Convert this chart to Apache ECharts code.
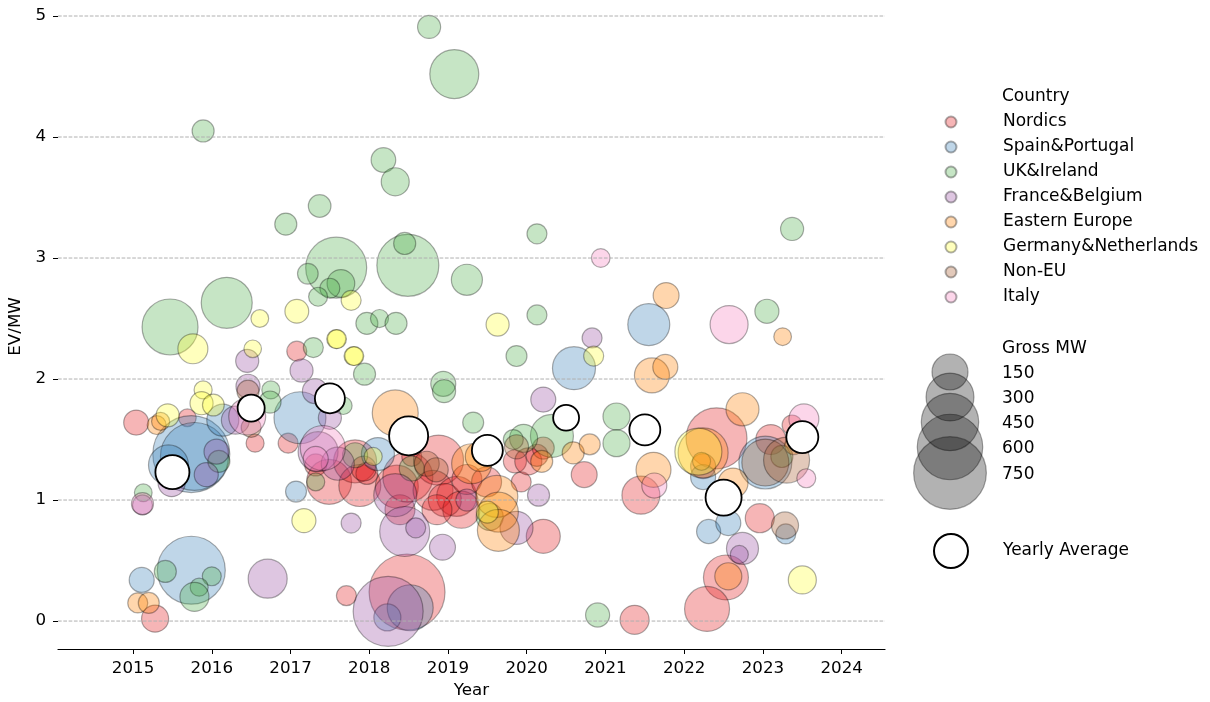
<!DOCTYPE html>
<html>
<head>
<meta charset="utf-8">
<script src="https://cdn.jsdelivr.net/npm/echarts@6/dist/echarts.min.js"></script>
<style>
  html, body { margin: 0; padding: 0; background: #fff; }
  #chart { width: 1210px; height: 702px; }
</style>
</head>
<body>
<div id="chart"></div>
<script>
// Deals per region: [year, EV/MW, gross MW]
const nordics = [
  [2015.04,1.64,49],[2015.69,1.68,2],[2016.55,1.47,4],[2015.28,0.02,65],[2017.08,2.23,15],
  [2016.97,1.47,15],[2017.32,1.29,28],[2017.49,1.15,259],[2017.82,1.32,233],[2017.88,1.12,220],
  [2017.97,1.22,28],[2017.93,1.26,49],[2018.35,1.11,233],[2018.39,0.92,90],[2018.49,1.19,331],
  [2018.54,1.36,15],[2018.88,1.33,331],[2018.81,1.08,195],[2019.11,1.03,195],[2018.96,1.00,119],
  [2019.17,0.92,161],[2018.86,0.92,90],[2019.24,1.17,90],[2019.49,1.15,90],[2019.93,1.15,15],
  [2019.85,1.32,35],[2020.02,1.32,65],[2020.13,1.37,28],[2020.21,1.43,28],[2020.73,1.21,56],
  [2020.21,0.70,129],[2017.71,0.21,15],[2018.48,0.24,823],[2021.45,1.04,172],[2021.37,0.01,82],
  [2022.41,1.51,514],[2022.24,1.28,49],[2023.10,1.50,90],[2023.37,1.62,15],[2022.96,0.85,82],
  [2022.53,0.36,259],[2022.29,0.10,259]
];
const spainPortugal = [
  [2015.74,1.38,847],[2015.78,1.36,650],[2015.45,1.29,195],[2016.14,1.66,109],[2015.11,0.34,49],
  [2015.74,0.42,650],[2017.12,1.68,361],[2018.11,1.38,119],[2017.07,1.07,21],[2018.52,0.11,273],
  [2018.23,0.03,65],[2020.60,2.09,233],[2021.55,2.45,220],[2022.24,1.19,49],[2023.03,1.31,377],
  [2023.29,0.72,15],[2022.31,0.74,42],[2022.56,0.81,49]
];
const ukIreland = [
  [2015.89,4.05,28],[2016.94,3.28,28],[2018.76,4.91,35],[2019.08,4.52,316],[2018.18,3.81,46],
  [2018.33,3.63,73],[2017.37,3.43,32],[2020.13,3.20,15],[2015.47,2.43,426],[2016.19,2.63,346],
  [2017.58,2.92,514],[2018.49,2.94,533],[2018.45,3.12,28],[2019.24,2.82,100],[2017.22,2.87,19],
  [2017.64,2.79,70],[2017.50,2.75,15],[2017.35,2.68,9],[2020.13,2.53,15],[2017.97,2.46,28],
  [2018.13,2.50,4],[2018.34,2.46,28],[2017.29,2.26,15],[2017.94,2.04,28],[2019.87,2.19,21],
  [2018.94,1.96,49],[2018.95,1.90,35],[2016.75,1.91,4],[2016.74,1.81,28],[2017.67,1.78,2],
  [2019.32,1.64,21],[2020.32,1.53,233],[2019.96,1.51,73],[2019.83,1.50,15],[2015.13,1.06,2],
  [2016.09,1.32,28],[2015.41,0.41,28],[2016.00,0.37,9],[2015.84,0.28,4],[2015.78,0.20,82],
  [2017.32,1.15,4],[2017.82,1.37,49],[2018.54,1.26,49],[2019.53,0.86,65],[2021.14,1.69,65],
  [2021.14,1.47,65],[2020.90,0.05,42],[2023.05,2.56,42],[2023.37,3.24,35],[2023.24,1.36,28]
];
const franceBelgium = [
  [2015.49,1.14,65],[2016.06,1.40,49],[2015.93,1.21,42],[2016.30,1.66,73],[2016.45,2.15,35],
  [2016.46,1.94,42],[2015.12,0.96,15],[2016.71,0.35,184],[2017.14,2.07,35],[2017.31,1.90,49],
  [2017.50,1.68,35],[2017.35,1.40,195],[2017.60,1.30,119],[2018.33,1.04,233],[2017.77,0.81,15],
  [2018.45,0.74,331],[2018.59,0.77,15],[2018.24,0.08,692],[2018.93,0.61,56],[2019.24,1.00,28],
  [2019.87,0.77,119],[2020.15,1.04,28],[2020.21,1.83,49],[2020.83,2.34,15],[2022.74,0.60,109],
  [2022.70,0.55,4]
];
const easternEurope = [
  [2015.30,1.62,9],[2015.35,1.65,4],[2015.06,0.15,15],[2015.20,0.15,21],[2018.33,1.72,273],
  [2019.30,1.30,195],[2019.41,1.36,90],[2019.62,1.03,220],[2019.64,0.90,195],[2019.64,0.75,220],
  [2020.19,1.32,28],[2020.59,1.39,28],[2020.80,1.46,21],[2021.77,2.69,56],[2021.59,2.03,139],
  [2021.76,2.10,49],[2021.61,1.25,139],[2022.24,1.39,331],[2022.74,1.75,119],[2022.62,1.14,90],
  [2022.56,0.37,65],[2023.25,2.35,2],[2023.39,1.45,4],[2022.22,1.32,4]
];
const germanyNetherlands = [
  [2015.44,1.70,35],[2015.89,1.91,4],[2015.87,1.80,35],[2016.02,1.785,26],[2016.61,2.50,2],
  [2016.52,2.25,1],[2015.76,2.25,90],[2017.08,2.56,40],[2017.77,2.65,15],[2019.63,2.45,35],
  [2017.58,2.33,9],[2017.59,2.33,9],[2017.80,2.19,9],[2017.81,2.19,9],[2020.85,2.19,15],
  [2017.17,0.83,42],[2018.05,1.36,4],[2019.50,0.90,28],[2022.18,1.40,287],[2023.50,0.34,73]
];
const nonEU = [
  [2016.46,1.90,28],[2016.50,1.60,15],[2018.73,1.30,49],[2018.85,1.25,42],[2019.87,1.44,42],
  [2023.03,1.31,287],[2023.30,1.33,273],[2023.28,0.79,65]
];
const italy = [
  [2015.12,0.97,28],[2016.45,1.69,160],[2017.41,1.43,259],[2017.32,1.34,49],[2020.94,3.00,7],
  [2022.57,2.45,172],[2021.62,1.12,49],[2023.52,1.67,90],[2023.55,1.18,9]
];

const countryNames = ['Nordics','Spain&Portugal','UK&Ireland','France&Belgium','Eastern Europe','Germany&Netherlands','Non-EU','Italy'];
const countryData = [nordics, spainPortugal, ukIreland, franceBelgium, easternEurope, germanyNetherlands, nonEU, italy];

// Yearly averages
const avgYears = [2015.5,2016.5,2017.5,2018.5,2019.5,2020.5,2021.5,2022.5,2023.5];
const avgValues = [1.23,1.76,1.84,1.53,1.41,1.68,1.58,1.02,1.52];
const avgMW = [129,65,90,184,99,56,99,150,109];

// Axis ticks and size-legend levels
const xTicks = [2015,2016,2017,2018,2019,2020,2021,2022,2023,2024];
const yTicks = [0,1,2,3,4,5];
const sizeLevels = [150,300,450,600,750];

// ---- styling ----
const palette = ['#e41a1c','#377eb8','#4daf4a','#984ea3','#ff7f00','#ffff33','#a65628','#f781bf'];
const FONT = 'DejaVu Sans';
const FS = 16.7;      // axis text
const LFS = 17;       // legend text
const X_MIN = 2014.047, X_MAX = 2024.55, Y_MIN = -0.231, Y_MAX = 5.1;

// marker diameter grows with area ~ gross MW
function bubble(mw) { return Math.sqrt(300 + 6.65 * mw); }
function rgba(hex, a) {
  const n = parseInt(hex.slice(1), 16);
  return 'rgba(' + (n >> 16 & 255) + ',' + (n >> 8 & 255) + ',' + (n & 255) + ',' + a + ')';
}

const series = [];
countryData.forEach(function (arr, i) {
  series.push({
    name: countryNames[i],
    type: 'scatter',
    z: 2,
    data: arr,
    symbolSize: function (v) { return bubble(v[2]); },
    itemStyle: { color: rgba(palette[i], 0.4), borderColor: 'rgba(0,0,0,0.4)', borderWidth: 1.2 },
    emphasis: { disabled: true },
    silent: true
  });
});

// dashed horizontal grid, drawn above the bubbles
yTicks.forEach(function (t) {
  series.push({
    type: 'line',
    z: 3,
    silent: true,
    symbol: 'none',
    data: [[X_MIN, t], [X_MAX, t]],
    lineStyle: { color: '#b0b0b0', width: 1, type: [3.7, 1.6] },
    emphasis: { disabled: true }
  });
});

series.push({
  name: 'Yearly Average',
  type: 'scatter',
  z: 5,
  data: avgYears.map(function (y, i) { return [y, avgValues[i], avgMW[i]]; }),
  symbolSize: function (v) { return bubble(v[2]); },
  itemStyle: { color: '#ffffff', borderColor: '#000000', borderWidth: 1.8, opacity: 1 },
  emphasis: { disabled: true },
  silent: true
});

// size legend
const LEG_X = 950, LEG_TEXT_X = 1002;
const sizeRowsY = [372, 397, 422, 447, 473];
const LFONT = LFS + 'px "' + FONT + '"';
const graphics = [
  { type: 'text', left: LEG_TEXT_X, top: 95 - 7, style: { text: 'Country', font: LFONT, fill: '#000' } },
  { type: 'text', left: LEG_TEXT_X, top: 347 - 7, style: { text: 'Gross MW', font: LFONT, fill: '#000' } }
];
sizeLevels.forEach(function (mw, i) {
  graphics.push({
    type: 'circle',
    shape: { cx: LEG_X, cy: sizeRowsY[i], r: bubble(mw) / 2 },
    style: { fill: 'rgba(0,0,0,0.3)', stroke: 'rgba(0,0,0,0.35)', lineWidth: 1.2 }
  });
  graphics.push({
    type: 'text', left: LEG_TEXT_X, top: sizeRowsY[i] - 7,
    style: { text: String(mw), font: LFONT, fill: '#000' }
  });
});

const chart = echarts.init(document.getElementById('chart'), null, { renderer: 'canvas' });
chart.setOption({
  animation: false,
  backgroundColor: '#fff',
  textStyle: { fontFamily: FONT },
  grid: { left: 58, right: 325, top: 3.9, bottom: 53, containLabel: false, outerBoundsMode: 'none' },
  xAxis: {
    type: 'value', min: X_MIN, max: X_MAX,
    name: 'Year', nameLocation: 'middle', nameGap: 33,
    nameTextStyle: { fontSize: FS, color: '#000', fontFamily: FONT },
    axisLine: { show: true, onZero: false, lineStyle: { color: '#000', width: 1.2 } },
    axisTick: { show: true, customValues: xTicks, length: 5, lineStyle: { color: '#000', width: 1 } },
    axisLabel: { customValues: xTicks, formatter: function (v) { return String(v); }, fontSize: FS, color: '#000', margin: 11, fontFamily: FONT },
    splitLine: { show: false }
  },
  yAxis: {
    type: 'value', min: Y_MIN, max: Y_MAX,
    name: 'EV/MW', nameLocation: 'middle', nameGap: 21, nameRotate: 90,
    nameTextStyle: { fontSize: FS, color: '#000', fontFamily: FONT },
    axisLine: { show: false, onZero: false },
    axisTick: { show: true, customValues: yTicks, length: 5, lineStyle: { color: '#000', width: 1 } },
    axisLabel: { customValues: yTicks, formatter: function (v) { return String(v); }, fontSize: FS, color: '#000', margin: 12, fontFamily: FONT },
    splitLine: { show: false }
  },
  legend: [
    {
      data: countryNames, orient: 'vertical', left: 944.5, top: 112, padding: 0,
      itemWidth: 11, itemHeight: 11, itemGap: 5, icon: 'circle',
      textStyle: { fontSize: LFS, lineHeight: 20, color: '#000', fontFamily: FONT, padding: [0, 0, 0, 41.5] },
      selectedMode: false
    },
    {
      data: ['Yearly Average'], orient: 'vertical', left: 933, top: 533, padding: 0,
      itemWidth: 34, itemHeight: 34, itemGap: 0, icon: 'circle',
      textStyle: { fontSize: LFS, lineHeight: 20, color: '#000', fontFamily: FONT, padding: [0, 0, 0, 30] },
      selectedMode: false
    }
  ],
  graphic: graphics,
  series: series
});
</script>
</body>
</html>
